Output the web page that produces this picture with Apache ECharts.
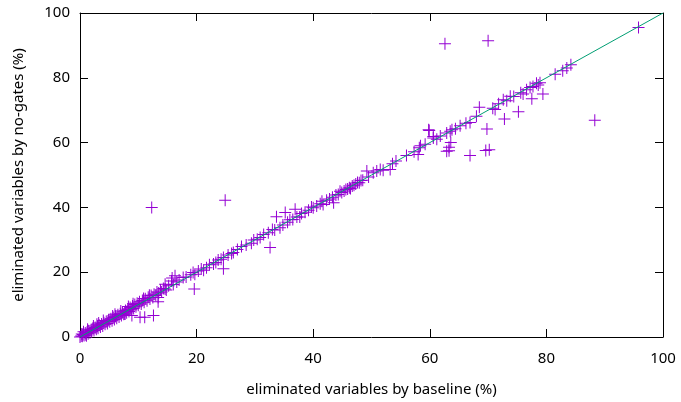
<!DOCTYPE html>
<html>
<head>
<meta charset="utf-8">
<script src="https://cdn.jsdelivr.net/npm/echarts@6/dist/echarts.min.js"></script>
<style>html,body{margin:0;padding:0;background:#fff;}#c{width:681px;height:402px;}</style>
</head>
<body>
<div id="c"></div>
<script>
const xTicks = [0, 20, 40, 60, 80, 100];
const yTicks = [0, 20, 40, 60, 80, 100];
const xName = 'eliminated variables by baseline (%)';
const yName = 'eliminated variables by no-gates (%)';
// [baseline %, no-gates %]
const points = [
[0,0],[0.2,0.3],[0.4,0.2],[0.5,0.8],[0.7,0.5],[0.9,1.2],[1.0,0.7],[1.2,1.5],[1.4,1.0],[1.5,1.9],
[1.7,1.3],[1.9,2.2],[2.0,1.6],[2.2,2.6],[2.4,2.0],[2.6,2.9],[2.8,2.4],[3.0,3.3],[3.1,2.7],[3.3,3.6],
[3.5,3.1],[3.7,4.0],[3.9,3.4],[4.1,4.4],[4.3,3.9],[4.5,4.8],[4.7,4.2],[4.9,5.3],[5.1,4.7],[0.6,1.6],
[1.3,2.4],[2.3,3.4],[3.2,4.3],[4.0,5.1],[0.3,0.9],[1.1,0.4],[2.9,3.9],
[5.3,5.6],[5.5,5.0],[5.7,6.0],[5.9,5.4],[6.1,6.4],[6.3,5.8],[6.5,6.9],[6.7,6.2],[6.9,7.2],[7.1,6.6],
[7.3,7.7],[7.5,7.0],[7.7,7.1],[7.8,8.2],[8.0,7.5],[8.2,8.6],[8.4,7.9],[8.6,9.1],[8.8,8.4],[8.9,6.6],
[9.0,9.6],[9.2,8.8],[9.4,10.0],[9.6,9.3],[9.8,10.4],[10.0,9.8],[10.3,6.1],[7.7,7.1],[6.0,7.0],[7.0,8.0],
[8.3,9.4],[9.1,10.3],[5.6,6.5],
[10.2,10.9],[10.5,10.2],[10.7,11.3],[11.0,10.7],[11.1,6.1],[11.2,11.8],[11.5,11.2],[11.7,12.3],[12.0,11.7],
[12.2,12.8],[12.3,40.0],[12.5,12.2],[12.6,6.6],[12.7,13.2],[13.0,12.8],[13.2,13.9],[13.4,12.2],[13.4,10.9],[13.5,13.6],
[13.8,14.5],[14.0,13.9],[14.3,15.0],[14.6,16.3],[14.6,14.8],[14.8,14.5],[11.9,12.9],[10.9,11.9],
[15.2,15.8],[15.7,17.3],[16.0,16.2],[16.3,18.9],[16.6,17.0],[17.0,17.6],[17.7,18.4],[18.2,18.5],[19.0,19.2],
[19.4,19.9],[19.6,14.8],[19.7,19.4],[20.3,20.4],[15.8,18.2],
[20.8,21.0],[21.2,20.6],[21.7,21.4],[22.2,22.3],[22.9,22.5],[23.3,23.0],[23.7,23.8],[24.2,24.0],[24.6,24.5],
[24.6,21.1],[24.9,42.2],[25.4,25.3],[26.0,25.8],[26.3,26.1],[27.0,27.0],[27.7,27.9],[28.5,28.4],[29.4,28.9],[29.8,29.9],
[30.4,30.2],[30.9,30.7],[31.5,31.6],[32.3,32.2],[32.6,27.6],[33.0,33.2],[33.4,33.0],[33.7,37.1],[34.3,33.7],
[34.8,34.6],[35.2,38.4],[35.6,35.4],[36.0,36.2],[36.5,36.3],[36.9,39.4],[37.2,37.0],[37.7,37.0],[38.0,38.1],
[38.6,38.5],[39.2,39.1],[39.7,40.1],[40.0,39.9],
[40.6,40.4],[41.2,41.1],[41.5,41.9],[41.7,40.9],[42.3,42.2],[42.8,42.6],[43.3,43.1],[43.5,41.4],[43.9,43.8],
[44.3,44.0],[44.6,45.0],[44.9,44.6],[45.3,45.1],[45.6,45.5],[45.9,45.7],[46.2,46.1],[46.4,45.8],[46.7,46.6],
[47.0,46.8],[47.3,47.2],[47.6,47.7],[47.9,47.6],[48.2,48.3],[48.5,48.4],[49.2,51.2],[49.5,49.4],
[50.3,50.7],[50.9,51.2],[51.5,51.7],[52.0,51.5],[53.2,51.7],[53.6,53.5],[54.2,54.3],[56.0,56.0],[57.3,57.2],
[58.0,56.3],[58.2,58.4],[58.4,59.0],[59.2,59.5],[59.8,64.0],[59.9,63.7],[60.6,61.4],[60.6,61.9],[61.2,61.0],[61.8,62.0],
[62.6,90.5],[62.9,63.0],[62.9,57.3],[63.3,57.5],[63.3,58.6],[63.6,60.0],[63.5,63.5],[63.8,64.0],[64.4,64.3],[65.2,65.2],
[66.2,66.0],[66.9,56.0],[66.9,66.2],[68.0,68.1],[68.5,70.9],[69.8,64.2],[70.0,91.4],[70.2,57.8],[69.6,57.6],
[70.8,70.6],[71.2,70.2],[71.8,72.0],[72.6,73.2],[72.8,67.3],[73.2,72.9],[73.8,74.3],[74.4,74.2],[75.2,69.5],
[75.6,75.4],[76.0,75.0],[76.6,76.3],[77.2,77.0],[77.5,73.5],[77.7,77.3],[78.3,78.3],[78.6,77.8],[78.9,78.5],
[79.4,75.0],[81.5,81.1],[82.8,82.2],[83.5,83.0],[84.2,84.0],[88.3,66.9],[95.8,95.5]
];
const diagonal = [[0,0],[100,100]];

const font = 'Noto Sans';
const fs = 15;
const axisCommon = {
  type: 'value', min: xTicks[0], max: xTicks[xTicks.length-1], interval: 20,
  splitLine: {show: false},
  axisLine: {show: true, onZero: false, lineStyle: {color: '#000', width: 1}},
  axisTick: {show: true, inside: true, length: 8, lineStyle: {color: '#000', width: 1}},
};
const chart = echarts.init(document.getElementById('c'), null, {renderer: 'canvas'});
chart.setOption({
  animation: false,
  backgroundColor: '#fff',
  grid: {left: 80, right: 18, top: 13, bottom: 64, containLabel: false},
  xAxis: [
    Object.assign({}, axisCommon, {
      position: 'bottom',
      name: xName, nameLocation: 'middle', nameGap: 45,
      nameTextStyle: {fontFamily: font, fontSize: fs, color: '#000'},
      axisLabel: {fontFamily: font, fontSize: fs, color: '#000', margin: 14}
    }),
    Object.assign({}, axisCommon, {position: 'top', axisLabel: {show: false}})
  ],
  yAxis: [
    Object.assign({}, axisCommon, {
      min: yTicks[0], max: yTicks[yTicks.length-1],
      position: 'left',
      name: yName, nameLocation: 'middle', nameGap: 54,
      nameTextStyle: {fontFamily: font, fontSize: fs, color: '#000'},
      axisLabel: {fontFamily: font, fontSize: fs, color: '#000', margin: 10}
    }),
    Object.assign({}, axisCommon, {min: yTicks[0], max: yTicks[yTicks.length-1], position: 'right', axisLabel: {show: false}})
  ],
  series: [
    {
      type: 'scatter', data: points, clip: false,
      symbol: 'path://M5.5,0h1v12h-1zM0,5.5h12v1h-12z',
      symbolSize: 12,
      itemStyle: {color: '#9400D3', opacity: 1},
      z: 2
    },
    {
      type: 'line', data: diagonal, symbol: 'none',
      lineStyle: {color: '#009E73', width: 1},
      z: 3
    }
  ]
});
</script>
</body>
</html>
